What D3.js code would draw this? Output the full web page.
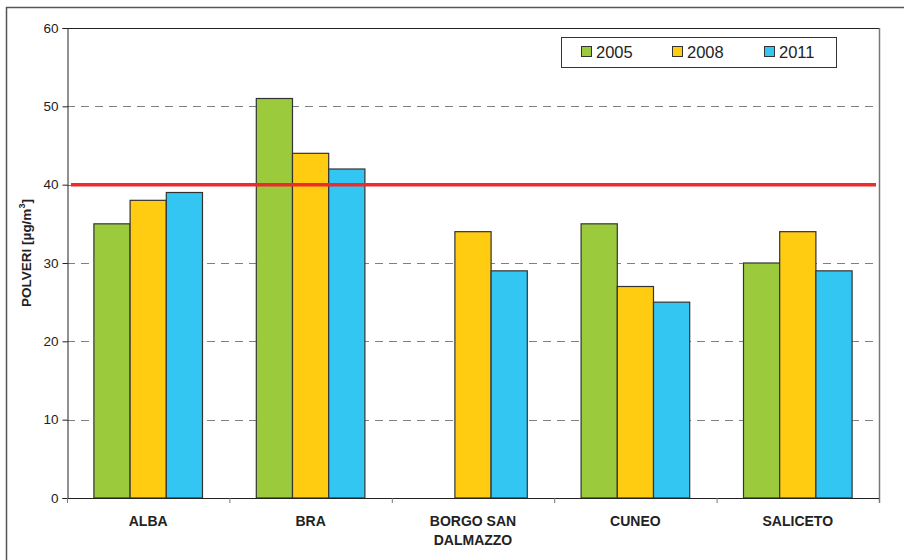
<!DOCTYPE html>
<html><head><meta charset="utf-8">
<script src="https://cdn.jsdelivr.net/npm/d3@7"></script>
<style>body{margin:0;background:#fff}svg{display:block;font-family:"Liberation Sans",Arial,sans-serif}</style>
</head><body>
<svg id="c" width="904" height="560"></svg>
<script>
const categories = [["ALBA"],["BRA"],["BORGO SAN","DALMAZZO"],["CUNEO"],["SALICETO"]];
const seriesNames = ["2005","2008","2011"];
const v2005 = [35, 51, null, 35, 30];
const v2008 = [38, 44, 34, 27, 34];
const v2011 = [39, 42, 29, 25, 29];
const colors = ["#9BCB3C","#FFCC11","#33C6F2"];
const yTicks = [0,10,20,30,40,50,60];
const limitValue = 40;

const svg = d3.select("#c");
const L=67, R=879, T=28, B=498;
const y = d3.scaleLinear().domain([0,60]).range([B,T]);
const x = d3.scaleBand().domain(d3.range(categories.length)).range([L,R]).paddingInner(0).paddingOuter(0);
const bw = 36.2;
const xs = d3.scaleBand().domain(d3.range(3)).range([0,bw*3]);

// outer frame
svg.append("line").attr("x1",6).attr("x2",904).attr("y1",7.5).attr("y2",7.5).attr("stroke","#555").attr("stroke-width",1.5);
svg.append("line").attr("x1",6.5).attr("x2",6.5).attr("y1",7).attr("y2",560).attr("stroke","#555").attr("stroke-width",1.5);

// gridlines
svg.append("g").selectAll("line").data(yTicks.filter(t=>t>0&&t<60)).join("line")
  .attr("x1",L).attr("x2",R).attr("y1",d=>Math.round(y(d))+0.5).attr("y2",d=>Math.round(y(d))+0.5)
  .attr("stroke","#808080").attr("stroke-width",1).attr("stroke-dasharray","8,6");
// top & right border
svg.append("line").attr("x1",L).attr("x2",R).attr("y1",T+0.5).attr("y2",T+0.5).attr("stroke","#222");
svg.append("line").attr("x1",R+0.5).attr("x2",R+0.5).attr("y1",T).attr("y2",B+5).attr("stroke","#777").attr("stroke-width",1.5);

// bars
const series = [v2005,v2008,v2011];
categories.forEach((c,i)=>{
  const cx = x(i)+x.bandwidth()/2 - bw*1.5;
  series.forEach((s,j)=>{
    if(s[i]==null) return;
    svg.append("rect").attr("x",cx+xs(j)).attr("y",y(s[i])).attr("width",bw).attr("height",B-y(s[i]))
      .attr("fill",colors[j]).attr("stroke","#333").attr("stroke-width",1.2);
  });
});

// y axis
const ya = svg.append("g").attr("transform",`translate(${L+0.5},0)`)
  .call(d3.axisLeft(y).tickValues(yTicks).tickSize(5).tickPadding(4).tickFormat(d3.format("d")));
ya.select(".domain").attr("stroke","#222");
ya.selectAll(".tick line").attr("stroke","#222");
ya.selectAll("text").attr("font-size",13.5).attr("fill","#222").attr("font-family","Liberation Sans, Arial, sans-serif");

// x axis
svg.append("line").attr("x1",L).attr("x2",R).attr("y1",B+0.5).attr("y2",B+0.5).attr("stroke","#222").attr("stroke-width",1.2);
svg.append("g").selectAll("line").data(d3.range(categories.length+1)).join("line")
  .attr("x1",d=>L+d*x.bandwidth()+0.5).attr("x2",d=>L+d*x.bandwidth()+0.5)
  .attr("y1",B).attr("y2",B+5).attr("stroke","#777");
categories.forEach((c,i)=>{
  c.forEach((line,k)=>{
    svg.append("text").attr("x",x(i)+x.bandwidth()/2).attr("y",526+k*19)
      .attr("text-anchor","middle").attr("font-size",14).attr("font-weight","bold").attr("fill","#222").text(line);
  });
});

// limit line
svg.append("line").attr("x1",71).attr("x2",876).attr("y1",y(limitValue)).attr("y2",y(limitValue))
  .attr("stroke","#EE2A2A").attr("stroke-width",3.5);

// y label
const yl = svg.append("text").attr("transform","translate(31,253) rotate(-90)").attr("text-anchor","middle")
  .attr("font-size",13.5).attr("font-weight","bold").attr("fill","#222");
yl.append("tspan").text("POLVERI [µg/m");
yl.append("tspan").attr("font-size",9).attr("dy",-6).text("3");
yl.append("tspan").attr("dy",6).text("]");

// legend
svg.append("rect").attr("x",561.5).attr("y",37.5).attr("width",275).attr("height",30).attr("fill","#fff").attr("stroke","#333");
const lx = [581,672,764];
seriesNames.forEach((n,j)=>{
  svg.append("rect").attr("x",lx[j]+0.5).attr("y",46.5).attr("width",10).attr("height",10).attr("fill",colors[j]).attr("stroke","#333");
  svg.append("text").attr("x",lx[j]+15).attr("y",58).attr("font-size",16.5).attr("fill","#222").text(n);
});
</script>
</body></html>
